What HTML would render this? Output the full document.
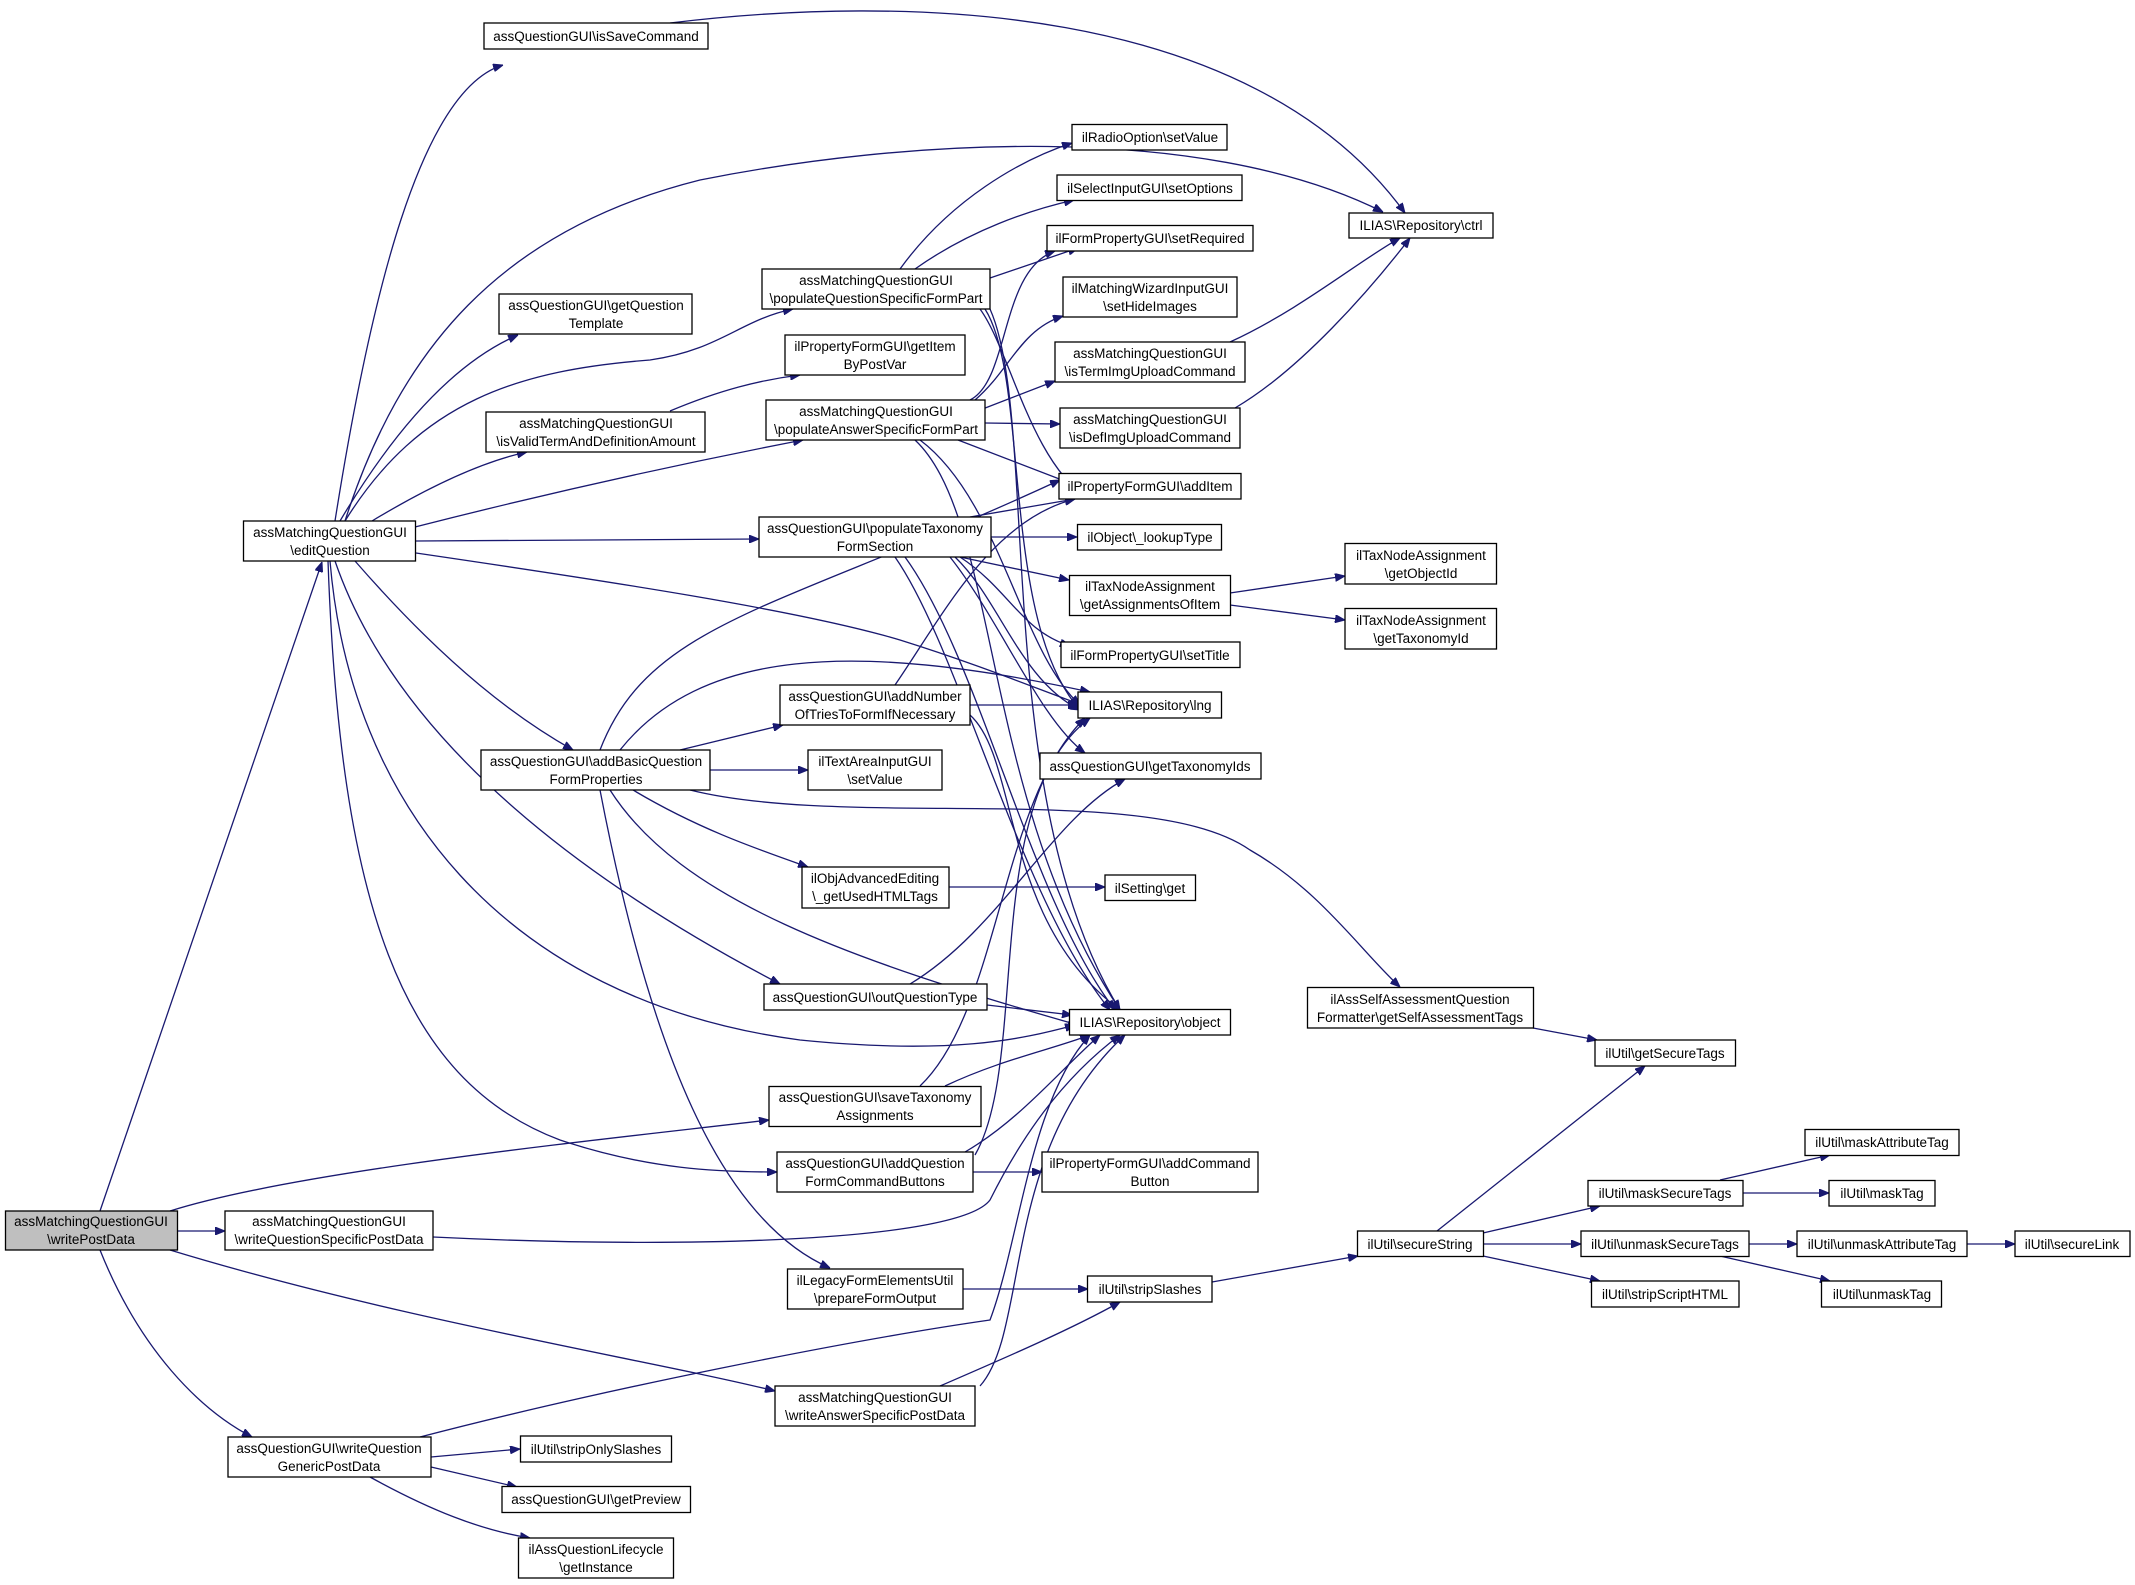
<!DOCTYPE html>
<html><head><meta charset="utf-8"><style>
html,body{margin:0;padding:0;background:#fff;}
svg{display:block;}
text{font-family:"Liberation Sans",Arial,sans-serif;font-size:13.5px;fill:#000;text-anchor:middle;}
.n{fill:#fff;stroke:#000;stroke-width:1.3;}
.e{fill:none;stroke:#191970;stroke-width:1.3;marker-end:url(#a);}
</style></head><body>
<svg width="2135" height="1585" viewBox="0 0 2135 1585" xmlns="http://www.w3.org/2000/svg">
<defs><marker id="a" viewBox="0 0 10 8" refX="10" refY="4" markerWidth="10" markerHeight="8" markerUnits="userSpaceOnUse" orient="auto"><path d="M0,0L10,4L0,8z" fill="#191970" stroke="#191970"/></marker></defs>

<!-- edges -->
<path class="e" d="M100,1211 L322,562"/>
<path class="e" d="M170,1211 C300,1170 600,1140 769,1120"/>
<path class="e" d="M177,1231 L225,1231"/>
<path class="e" d="M170,1250 C400,1320 650,1360 775,1391"/>
<path class="e" d="M100,1250 C140,1350 200,1410 252,1437"/>

<path class="e" d="M335,521 C370,300 420,90 503,65"/>
<path class="e" d="M345,521 C400,350 500,230 700,180 C900,140 1200,120 1383,212"/>
<path class="e" d="M340,521 C400,420 460,360 518,335"/>
<path class="e" d="M345,521 C420,400 520,370 650,360 C720,350 740,320 793,309"/>
<path class="e" d="M372,521 C440,480 490,460 527,452"/>
<path class="e" d="M415,527 C560,490 700,460 803,440"/>
<path class="e" d="M416,541 L759,539"/>
<path class="e" d="M416,553 C600,580 800,610 900,640 C980,665 1040,690 1082,705"/>
<path class="e" d="M355,561 C450,670 520,720 573,750"/>
<path class="e" d="M335,561 C400,750 600,890 780,984"/>
<path class="e" d="M330,561 C350,800 500,1000 800,1040 C950,1055 1020,1040 1075,1025"/>
<path class="e" d="M328,561 C340,900 400,1080 560,1140 C650,1170 720,1172 777,1172"/>

<path class="e" d="M900,269 C950,200 1020,160 1072,143"/>
<path class="e" d="M915,269 C970,230 1030,210 1074,200"/>
<path class="e" d="M990,278 L1078,248"/>
<path class="e" d="M980,309 C1010,350 1030,460 1088,499"/>
<path class="e" d="M985,309 C1030,380 1000,620 1080,710"/>
<path class="e" d="M990,309 C1040,420 990,800 1120,1010"/>
<path class="e" d="M670,411 C720,390 760,380 800,375"/>
<path class="e" d="M970,400 C1010,380 1000,270 1055,251"/>
<path class="e" d="M975,400 C1010,370 1020,330 1063,316"/>
<path class="e" d="M980,410 L1055,381"/>
<path class="e" d="M985,423 L1060,424"/>
<path class="e" d="M958,440 L1075,485"/>
<path class="e" d="M920,440 C1000,500 1020,650 1080,705"/>
<path class="e" d="M915,440 C1000,520 980,800 1120,1010"/>

<path class="e" d="M970,517 L1075,499"/>
<path class="e" d="M991,537 L1077,537"/>
<path class="e" d="M960,557 L1069,580"/>
<path class="e" d="M960,557 C1010,590 1020,630 1070,646"/>
<path class="e" d="M955,557 C1000,600 1020,680 1080,710"/>
<path class="e" d="M950,557 C1000,620 1040,720 1085,753"/>
<path class="e" d="M895,557 C960,650 1020,900 1110,1010"/>
<path class="e" d="M905,557 C980,660 1030,900 1115,1010"/>

<path class="e" d="M1230,342 C1300,310 1360,260 1400,238"/>
<path class="e" d="M1235,408 C1300,370 1370,290 1410,238"/>
<path class="e" d="M670,23 C900,-5 1250,0 1405,213"/>
<path class="e" d="M1230,593 L1345,576"/>
<path class="e" d="M1230,605 L1345,620"/>

<path class="e" d="M895,685 C940,620 990,520 1075,499"/>
<path class="e" d="M970,705 L1078,705"/>
<path class="e" d="M970,715 C1020,760 1000,920 1120,1010"/>

<path class="e" d="M600,750 C650,620 780,610 1060,480"/>
<path class="e" d="M620,750 C700,650 850,640 1090,692"/>
<path class="e" d="M680,750 L783,725"/>
<path class="e" d="M710,770 L808,770"/>
<path class="e" d="M633,790 C700,830 760,850 808,867"/>
<path class="e" d="M610,790 C680,900 850,960 1078,1025"/>
<path class="e" d="M690,790 C850,830 1150,780 1250,850 C1320,890 1360,950 1400,987"/>
<path class="e" d="M600,790 C650,1050 720,1220 830,1268"/>

<path class="e" d="M948,887 L1105,887"/>
<path class="e" d="M910,984 C1000,930 1050,820 1125,779"/>
<path class="e" d="M987,1005 L1072,1015"/>
<path class="e" d="M920,1086 C1000,1010 1000,800 1085,718"/>
<path class="e" d="M945,1086 C1000,1060 1050,1050 1090,1035"/>
<path class="e" d="M965,1152 C1020,1120 1060,1070 1100,1035"/>
<path class="e" d="M975,1155 C1030,1060 980,800 1090,718"/>
<path class="e" d="M973,1172 L1042,1172"/>
<path class="e" d="M433,1237 C700,1250 960,1240 990,1200 C1020,1140 1060,1080 1120,1035"/>
<path class="e" d="M963,1289 L1088,1289"/>
<path class="e" d="M940,1386 C1000,1360 1070,1330 1120,1302"/>
<path class="e" d="M980,1386 C1030,1330 1000,1150 1125,1035"/>
<path class="e" d="M420,1437 C600,1390 850,1340 990,1320 C1020,1240 1030,1100 1090,1035"/>
<path class="e" d="M431,1457 L520,1449"/>
<path class="e" d="M431,1467 L517,1487"/>
<path class="e" d="M370,1477 C430,1510 480,1530 530,1538"/>
<path class="e" d="M1212,1282 L1358,1256"/>
<path class="e" d="M1437,1231 L1645,1066"/>
<path class="e" d="M1483,1233 L1600,1206"/>
<path class="e" d="M1483,1244 L1581,1244"/>
<path class="e" d="M1483,1256 L1600,1281"/>
<path class="e" d="M1533,1028 L1597,1040"/>
<path class="e" d="M1720,1180 L1830,1155"/>
<path class="e" d="M1743,1193 L1829,1193"/>
<path class="e" d="M1749,1244 L1797,1244"/>
<path class="e" d="M1720,1256 L1830,1281"/>
<path class="e" d="M1967,1244 L2015,1244"/>

<!-- nodes -->
<rect x="5.5" y="1211" width="172" height="39" style="fill:#bfbfbf;stroke:#000;stroke-width:1.3"/>
<text x="91" y="1226">assMatchingQuestionGUI</text><text x="91" y="1244">\writePostData</text>

<rect class="n" x="484" y="23" width="224" height="26"/><text x="596" y="41">assQuestionGUI\isSaveCommand</text>
<rect class="n" x="499" y="294" width="193" height="40"/><text x="596" y="310">assQuestionGUI\getQuestion</text><text x="596" y="328">Template</text>
<rect class="n" x="762" y="269" width="228" height="40"/><text x="876" y="285">assMatchingQuestionGUI</text><text x="876" y="303">\populateQuestionSpecificFormPart</text>
<rect class="n" x="785" y="335" width="180" height="40"/><text x="875" y="351">ilPropertyFormGUI\getItem</text><text x="875" y="369">ByPostVar</text>
<rect class="n" x="486" y="412" width="219" height="40"/><text x="596" y="428">assMatchingQuestionGUI</text><text x="596" y="446">\isValidTermAndDefinitionAmount</text>
<rect class="n" x="766" y="400" width="219" height="40"/><text x="876" y="416">assMatchingQuestionGUI</text><text x="876" y="434">\populateAnswerSpecificFormPart</text>
<rect class="n" x="243.5" y="521" width="172" height="40"/><text x="330" y="537">assMatchingQuestionGUI</text><text x="330" y="555">\editQuestion</text>
<rect class="n" x="759" y="517" width="232" height="40"/><text x="875" y="533">assQuestionGUI\populateTaxonomy</text><text x="875" y="551">FormSection</text>
<rect class="n" x="780" y="685" width="190" height="40"/><text x="875" y="701">assQuestionGUI\addNumber</text><text x="875" y="719">OfTriesToFormIfNecessary</text>
<rect class="n" x="481" y="750" width="229" height="40"/><text x="596" y="766">assQuestionGUI\addBasicQuestion</text><text x="596" y="784">FormProperties</text>
<rect class="n" x="808" y="750" width="134" height="40"/><text x="875" y="766">ilTextAreaInputGUI</text><text x="875" y="784">\setValue</text>

<rect class="n" x="1072" y="124.5" width="155" height="25.5"/><text x="1150" y="142">ilRadioOption\setValue</text>
<rect class="n" x="1057" y="175" width="185" height="25.5"/><text x="1150" y="193">ilSelectInputGUI\setOptions</text>
<rect class="n" x="1047" y="225.5" width="206" height="25.5"/><text x="1150" y="243">ilFormPropertyGUI\setRequired</text>
<rect class="n" x="1063" y="277" width="174" height="40"/><text x="1150" y="293">ilMatchingWizardInputGUI</text><text x="1150" y="311">\setHideImages</text>
<rect class="n" x="1055" y="342" width="190" height="40"/><text x="1150" y="358">assMatchingQuestionGUI</text><text x="1150" y="376">\isTermImgUploadCommand</text>
<rect class="n" x="1060" y="408" width="180" height="40"/><text x="1150" y="424">assMatchingQuestionGUI</text><text x="1150" y="442">\isDefImgUploadCommand</text>
<rect class="n" x="1349" y="213" width="144" height="25"/><text x="1421" y="230">ILIAS\Repository\ctrl</text>
<rect class="n" x="1059" y="473.5" width="182" height="25.5"/><text x="1150" y="491">ilPropertyFormGUI\addItem</text>
<rect class="n" x="1077.5" y="524.5" width="144" height="25.5"/><text x="1150" y="542">ilObject\_lookupType</text>
<rect class="n" x="1069.5" y="575.5" width="161" height="40"/><text x="1150" y="591">ilTaxNodeAssignment</text><text x="1150" y="609">\getAssignmentsOfItem</text>
<rect class="n" x="1345" y="543.5" width="151.5" height="40.5"/><text x="1421" y="560">ilTaxNodeAssignment</text><text x="1421" y="578">\getObjectId</text>
<rect class="n" x="1345" y="608.5" width="151.5" height="40.5"/><text x="1421" y="625">ilTaxNodeAssignment</text><text x="1421" y="643">\getTaxonomyId</text>
<rect class="n" x="1061" y="642" width="179" height="25.5"/><text x="1150" y="660">ilFormPropertyGUI\setTitle</text>
<rect class="n" x="1078" y="692" width="143.5" height="26"/><text x="1150" y="710">ILIAS\Repository\lng</text>
<rect class="n" x="1040" y="753" width="221" height="26"/><text x="1150" y="771">assQuestionGUI\getTaxonomyIds</text>

<rect class="n" x="802" y="867" width="147" height="41"/><text x="875" y="883">ilObjAdvancedEditing</text><text x="875" y="901">\_getUsedHTMLTags</text>
<rect class="n" x="764" y="984" width="223" height="26"/><text x="875" y="1002">assQuestionGUI\outQuestionType</text>
<rect class="n" x="769" y="1086.5" width="212" height="40"/><text x="875" y="1102">assQuestionGUI\saveTaxonomy</text><text x="875" y="1120">Assignments</text>
<rect class="n" x="777" y="1152" width="196" height="40"/><text x="875" y="1168">assQuestionGUI\addQuestion</text><text x="875" y="1186">FormCommandButtons</text>
<rect class="n" x="225" y="1211" width="208" height="39"/><text x="329" y="1226">assMatchingQuestionGUI</text><text x="329" y="1244">\writeQuestionSpecificPostData</text>
<rect class="n" x="787.5" y="1269" width="175.5" height="40"/><text x="875" y="1285">ilLegacyFormElementsUtil</text><text x="875" y="1303">\prepareFormOutput</text>
<rect class="n" x="775" y="1386" width="200" height="40"/><text x="875" y="1402">assMatchingQuestionGUI</text><text x="875" y="1420">\writeAnswerSpecificPostData</text>
<rect class="n" x="228" y="1437" width="203" height="40"/><text x="329" y="1453">assQuestionGUI\writeQuestion</text><text x="329" y="1471">GenericPostData</text>
<rect class="n" x="520.5" y="1436" width="151" height="26"/><text x="596" y="1454">ilUtil\stripOnlySlashes</text>
<rect class="n" x="502" y="1486.5" width="188.5" height="26"/><text x="596" y="1504">assQuestionGUI\getPreview</text>
<rect class="n" x="518.5" y="1538" width="155" height="40"/><text x="596" y="1554">ilAssQuestionLifecycle</text><text x="596" y="1572">\getInstance</text>

<rect class="n" x="1105" y="875" width="90.5" height="25.5"/><text x="1150" y="893">ilSetting\get</text>
<rect class="n" x="1069.5" y="1009.5" width="161" height="25.5"/><text x="1150" y="1027">ILIAS\Repository\object</text>
<rect class="n" x="1307.5" y="987.5" width="226" height="40.5"/><text x="1420" y="1004">ilAssSelfAssessmentQuestion</text><text x="1420" y="1022">Formatter\getSelfAssessmentTags</text>
<rect class="n" x="1595" y="1040" width="140.5" height="26"/><text x="1665" y="1058">ilUtil\getSecureTags</text>
<rect class="n" x="1042" y="1152" width="216" height="40"/><text x="1150" y="1168">ilPropertyFormGUI\addCommand</text><text x="1150" y="1186">Button</text>
<rect class="n" x="1805" y="1129.5" width="154" height="26"/><text x="1882" y="1147">ilUtil\maskAttributeTag</text>
<rect class="n" x="1588" y="1180.5" width="155" height="25.5"/><text x="1665" y="1198">ilUtil\maskSecureTags</text>
<rect class="n" x="1829" y="1180.5" width="106" height="25.5"/><text x="1882" y="1198">ilUtil\maskTag</text>
<rect class="n" x="1357.5" y="1231" width="126" height="25.5"/><text x="1420" y="1249">ilUtil\secureString</text>
<rect class="n" x="1581" y="1231" width="168" height="25.5"/><text x="1665" y="1249">ilUtil\unmaskSecureTags</text>
<rect class="n" x="1797" y="1231" width="170" height="25.5"/><text x="1882" y="1249">ilUtil\unmaskAttributeTag</text>
<rect class="n" x="2015" y="1231" width="115" height="25.5"/><text x="2072" y="1249">ilUtil\secureLink</text>
<rect class="n" x="1591.5" y="1281" width="147.5" height="26"/><text x="1665" y="1299">ilUtil\stripScriptHTML</text>
<rect class="n" x="1821.5" y="1281" width="120" height="26"/><text x="1882" y="1299">ilUtil\unmaskTag</text>
<rect class="n" x="1087.5" y="1276" width="124.5" height="26"/><text x="1150" y="1294">ilUtil\stripSlashes</text>
</svg>
</body></html>
